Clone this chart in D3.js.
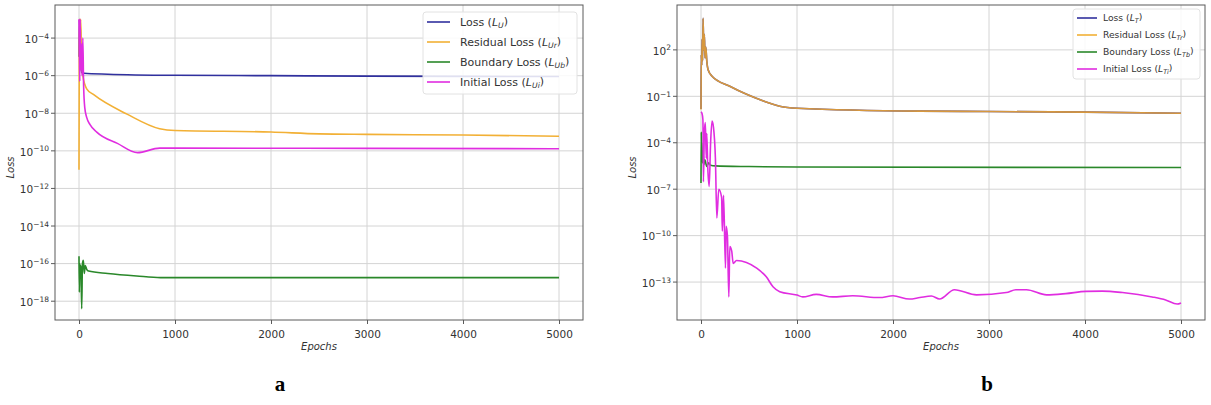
<!DOCTYPE html>
<html>
<head>
<meta charset="utf-8">
<script src="https://cdn.jsdelivr.net/npm/d3@7"></script>
<style>
  body { margin: 0; background: #fff; }
  svg { display: block; font-family: "DejaVu Sans", sans-serif; }
</style>
</head>
<body>
<svg id="fig" width="1211" height="405"></svg>
<script>
// ---- data (epoch, loss) ----
var xTicks = [0, 1000, 2000, 3000, 4000, 5000];

// panel a
var aLoss = [[0,1e-5],[4,1e-3],[8,1e-4],[12,8e-4],[18,2e-5],[26,1.5e-6],[50,1.35e-6],[300,1.2e-6],[1000,1.05e-6],[2000,1e-6],[3000,9.5e-7],[4000,9.2e-7],[5000,9e-7]];
var aResid = [[0,1e-11],[3,3e-5],[7,1e-3],[12,2e-4],[18,1e-3],[26,1e-5],[40,1e-6],[80,2e-7],[150,1e-7],[500,9e-9],[840,1.5e-9],[1000,1.2e-9],[2000,1e-9],[2500,8e-10],[3000,7.5e-10],[4000,7e-10],[5000,6e-10]];
var aBound = [[0,2.5e-16],[4,3e-18],[8,1e-16],[14,2e-17],[20,8e-17],[28,4e-19],[36,1e-16],[45,1.5e-16],[55,3e-17],[65,8e-17],[80,5e-17],[100,4e-17],[300,3e-17],[600,2.2e-17],[850,1.8e-17],[5000,1.8e-17]];
var aInit = [[0,1e-3],[5,1e-5],[8,5e-7],[12,1e-3],[18,2e-6],[25,5e-5],[32,1e-6],[40,1e-4],[48,3e-7],[60,2e-8],[80,6e-9],[115,2.5e-9],[185,1e-9],[400,2.5e-10],[610,8e-11],[840,1.4e-10],[1000,1.4e-10],[3000,1.35e-10],[5000,1.3e-10]];

// panel b
var bLoss = [[0,1.5e-2],[3,50],[8,10],[12,500],[16,20],[22,1.1e4],[28,100],[35,1000],[42,30],[50,150],[60,20],[75,5],[115,2],[300,0.45],[475,0.135],[650,0.05],[820,0.023],[1000,0.017],[2280,0.011],[3000,0.0105],[4000,0.0095],[5000,0.008]];
var bResid = [[0,1.4e-2],[3,50],[8,10],[12,500],[16,20],[22,1.1e4],[28,100],[35,1000],[42,30],[50,150],[60,20],[75,5],[115,2],[300,0.45],[475,0.135],[650,0.05],[820,0.023],[1000,0.017],[2280,0.011],[3000,0.0105],[4000,0.0095],[5000,0.008]];
var bBound = [[0,2.5e-7],[3,5e-4],[6,3e-5],[10,1e-4],[15,5e-6],[20,3e-5],[30,4e-6],[40,8e-6],[60,3e-6],[80,5e-6],[100,3.5e-6],[150,3.2e-6],[500,2.9e-6],[1000,2.7e-6],[5000,2.5e-6]];
var bInit = [[0,1e-2],[10,8e-3],[20,3e-3],[25,3e-7],[35,5e-4],[45,2e-3],[55,1e-5],[60,4e-4],[70,3e-6],[85,1.5e-7],[100,1e-4],[115,2.5e-3],[130,1e-3],[150,1e-5],[165,1.4e-9],[185,1e-7],[215,3e-8],[222,2e-10],[235,4e-8],[255,8e-13],[262,4e-10],[275,1e-10],[290,1.1e-14],[300,2e-11],[320,1e-11],[335,1.6e-12],[370,2.5e-12],[580,8e-13],[680,2.2e-13],[750,5e-14],[820,2.4e-14],[1000,1.45e-14],[1060,1.1e-14],[1200,1.6e-14],[1370,1.1e-14],[1580,1.3e-14],[1860,1e-14],[2000,1.3e-14],[2170,8e-15],[2280,1e-14],[2400,1.25e-14],[2485,8e-15],[2640,3.2e-14],[2870,1.5e-14],[3180,2.1e-14],[3280,3.2e-14],[3390,3.2e-14],[3600,1.5e-14],[3800,1.8e-14],[4010,2.5e-14],[4180,2.6e-14],[4390,2.1e-14],[4700,1.1e-14],[4840,7e-15],[4960,3.8e-15],[5000,4.5e-15]];

var aYTicks = [-4, -6, -8, -10, -12, -14, -16, -18];
var bYTicks = [2, -1, -4, -7, -10, -13];

var lossNames = ['Loss', 'Residual Loss', 'Boundary Loss', 'Initial Loss'];
var aSubs = ['U', 'Ur', 'Ub', 'Ui'];
var bSubs = ['T', 'Tr', 'Tb', 'Ti'];

//colours
var $navy = '#30309e';
var $orange = '#f2b035';
var $green = '#2a882a';
var $magenta = '#e02de0';
var $grid = '#d4d4d4';
var $frame = '#5a5a5a';

var svg = d3.select('#fig');

function drawPanel(p) {
    var x = d3.scaleLinear().domain([-250, 5250]).range([p.left, p.right]);
    var y = d3.scaleLog().domain(p.yDomain).range([p.bottom, p.top]);
    var g = svg.append('g');

    //grid
    g.selectAll('line.gx').data(xTicks).enter().append('line')
        .attr('x1', function(d) { return x(d); }).attr('x2', function(d) { return x(d); })
        .attr('y1', p.top).attr('y2', p.bottom)
        .attr('stroke', $grid).attr('stroke-width', 1);
    g.selectAll('line.gy').data(p.yTicks).enter().append('line')
        .attr('x1', p.left).attr('x2', p.right)
        .attr('y1', function(d) { return y(Math.pow(10, d)); })
        .attr('y2', function(d) { return y(Math.pow(10, d)); })
        .attr('stroke', $grid).attr('stroke-width', 1);

    //lines
    var line = d3.line()
        .curve(d3.curveMonotoneX)
        .x(function(d) { return x(d[0]); })
        .y(function(d) { return y(d[1]); });
    p.series.forEach(function(s) {
        g.append('path').datum(s.data)
            .attr('d', line)
            .attr('fill', 'none')
            .attr('stroke', s.color)
            .attr('stroke-width', 1.6)
            .attr('stroke-opacity', s.opacity || 1)
            .attr('stroke-linejoin', 'round');
    });

    //frame
    g.append('rect')
        .attr('x', p.left).attr('y', p.top)
        .attr('width', p.right - p.left).attr('height', p.bottom - p.top)
        .attr('fill', 'none').attr('stroke', $frame).attr('stroke-width', 1);

    //x axis
    var xa = g.append('g').attr('transform', 'translate(0,' + p.bottom + ')')
        .call(d3.axisBottom(x).tickValues(xTicks).tickSize(4).tickFormat(d3.format('d')));
    xa.select('.domain').remove();
    xa.selectAll('line').attr('stroke', $frame);
    xa.selectAll('text').attr('fill', '#333').attr('font-size', 10.5)
        .attr('font-family', 'DejaVu Sans, sans-serif').attr('dy', '1.05em');

    //y axis
    var ya = g.append('g').attr('transform', 'translate(' + p.left + ',0)');
    var yt = ya.selectAll('g').data(p.yTicks).enter().append('g')
        .attr('transform', function(d) { return 'translate(0,' + y(Math.pow(10, d)) + ')'; });
    yt.append('line').attr('x1', -4).attr('x2', 0).attr('stroke', $frame);
    var tx = yt.append('text').attr('x', -6).attr('dy', '0.45em')
        .attr('text-anchor', 'end').attr('font-size', 10.5).attr('fill', '#333');
    tx.append('tspan').text('10');
    tx.append('tspan').attr('dy', '-0.55em').attr('font-size', 7.5)
        .text(function(d) { return (d < 0 ? '\u2212' : '') + Math.abs(d); });

    //axis labels
    g.append('text')
        .attr('transform', 'translate(' + p.yLabelX + ',' + ((p.top + p.bottom) / 2 + 5) + ') rotate(-90)')
        .attr('text-anchor', 'middle').attr('font-size', 10).attr('font-style', 'italic')
        .attr('fill', '#333').text('Loss');
    g.append('text')
        .attr('x', (p.left + p.right) / 2).attr('y', 350)
        .attr('text-anchor', 'middle').attr('font-size', 10).attr('font-style', 'italic')
        .attr('fill', '#333').text('Epochs');

    //legend
    var lg = g.append('g').attr('transform', 'translate(' + p.legX + ',' + p.legY + ')');
    lg.append('rect')
        .attr('width', p.legW).attr('height', p.legH).attr('rx', 3)
        .attr('fill', '#fff').attr('fill-opacity', 0.85)
        .attr('stroke', '#e2e2e2');
    var items = lg.selectAll('g.item').data(p.series.map(function(s, i) {
        return {color: s.legColor || s.color, name: lossNames[i], sub: p.subs[i]};
    })).enter().append('g')
        .attr('transform', function(d, i) { return 'translate(0,' + (p.legRow0 + i * p.legStep) + ')'; });
    items.append('line')
        .attr('x1', 4).attr('x2', 4 + p.legLine)
        .attr('stroke', function(d) { return d.color; }).attr('stroke-width', 1.6);
    var lt = items.append('text')
        .attr('x', p.legTextX).attr('dy', '0.35em')
        .attr('font-size', p.legFont).attr('fill', '#333');
    lt.append('tspan').text(function(d) { return d.name + ' ('; });
    lt.append('tspan').attr('font-style', 'italic').text('L');
    lt.append('tspan').attr('font-style', 'italic').attr('font-size', p.legFont * 0.7)
        .attr('dy', '0.3em').text(function(d) { return d.sub; });
    lt.append('tspan').attr('dy', '-0.3em').text(')');

    //panel letter
    svg.append('text')
        .attr('x', p.letterX).attr('y', 391)
        .attr('text-anchor', 'middle')
        .attr('font-family', 'Liberation Serif, serif').attr('font-weight', 'bold')
        .attr('font-size', 21).attr('fill', '#000').text(p.letter);
}

drawPanel({
    left: 55, right: 583, top: 5, bottom: 320,
    yDomain: [Math.pow(10, -19.0), Math.pow(10, -2.24)],
    yTicks: aYTicks, yLabelX: 14,
    series: [
        {data: aLoss, color: $navy},
        {data: aResid, color: $orange},
        {data: aBound, color: $green},
        {data: aInit, color: $magenta}
    ],
    subs: aSubs,
    legX: 423, legY: 12, legW: 154, legH: 82, legRow0: 10, legStep: 20,
    legLine: 23, legTextX: 37, legFont: 11,
    letter: 'a', letterX: 280
});

drawPanel({
    left: 677, right: 1205, top: 5, bottom: 320,
    yDomain: [Math.pow(10, -15.45), Math.pow(10, 4.9)],
    yTicks: bYTicks, yLabelX: 636,
    series: [
        {data: bLoss, color: $navy},
        {data: bResid, color: '#eea630', opacity: 0.88, legColor: $orange},
        {data: bBound, color: $green},
        {data: bInit, color: $magenta}
    ],
    subs: bSubs,
    legX: 1073, legY: 9, legW: 127, legH: 70, legRow0: 9, legStep: 17,
    legLine: 20, legTextX: 30, legFont: 9.2,
    letter: 'b', letterX: 987
});
</script>
</body>
</html>
